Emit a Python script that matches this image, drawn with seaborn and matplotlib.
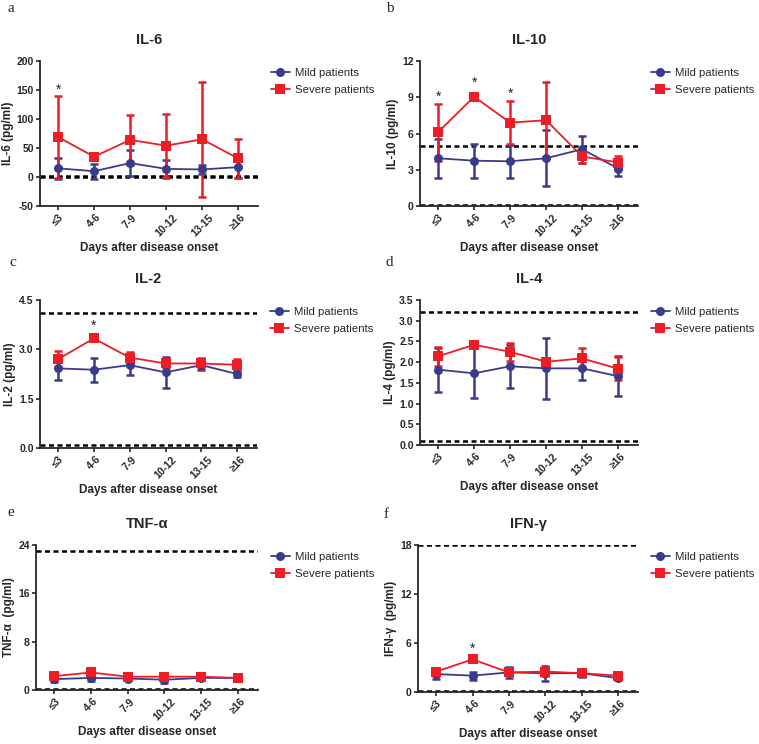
import numpy as np
import pandas as pd
import seaborn as sns
import matplotlib.pyplot as plt

# data
days = ['≤3', '4-6', '7-9', '10-12', '13-15', '≥16']
groups = ['Mild patients', 'Severe patients']

il6_mild = [15, 10, 24, 14, 13, 17]
il6_mild_err = [18, 13, 23, 15, 8, 19]
il6_severe = [69, 35, 64, 54, 65, 32]
il6_severe_err = [70, 1, 43, 54, 99, 33]

il10_mild = [3.95, 3.75, 3.7, 3.95, 4.7, 3.1]
il10_mild_err = [1.6, 1.4, 1.35, 2.3, 1.1, 0.6]
il10_severe = [6.1, 9.05, 6.9, 7.1, 4.1, 3.6]
il10_severe_err = [2.35, 0.05, 1.75, 3.2, 0.5, 0.55]

il2_mild = [2.42, 2.38, 2.52, 2.3, 2.52, 2.25]
il2_mild_err = [0.35, 0.37, 0.3, 0.48, 0.15, 0.1]
il2_severe = [2.7, 3.33, 2.75, 2.57, 2.57, 2.53]
il2_severe_err = [0.25, 0.03, 0.18, 0.15, 0.18, 0.18]

il4_mild = [1.82, 1.73, 1.9, 1.85, 1.85, 1.66]
il4_mild_err = [0.53, 0.6, 0.52, 0.73, 0.28, 0.48]
il4_severe = [2.14, 2.42, 2.25, 2.01, 2.09, 1.84]
il4_severe_err = [0.23, 0.03, 0.22, 0.1, 0.26, 0.28]

tnf_mild = [1.8, 2.0, 1.9, 1.7, 2.0, 2.0]
tnf_mild_err = [0.4, 0.5, 0.3, 0.5, 0.3, 0.3]
tnf_severe = [2.3, 2.9, 2.2, 2.2, 2.2, 2.0]
tnf_severe_err = [0.3, 0.2, 0.2, 0.3, 0.2, 0.2]

ifn_mild = [2.2, 2.0, 2.4, 2.3, 2.3, 1.7]
ifn_mild_err = [0.6, 0.5, 0.7, 0.9, 0.5, 0.2]
ifn_severe = [2.5, 4.0, 2.4, 2.5, 2.3, 2.0]
ifn_severe_err = [0.5, 0.1, 0.3, 0.6, 0.4, 0.3]

panels = [
    # letter, title, ylabel, mild, mild_err, severe, severe_err, ylim, yticks, ref lines, stars, tick labels
    ('a', 'IL-6', 'IL-6 (pg/ml)', il6_mild, il6_mild_err, il6_severe, il6_severe_err,
     (-50, 200), [-50, 0, 50, 100, 150, 200], [0, 2], {0: 150}, ['-50', '0', '50', '100', '150', '200']),
    ('b', 'IL-10', 'IL-10 (pg/ml)', il10_mild, il10_mild_err, il10_severe, il10_severe_err,
     (0, 12), [0, 3, 6, 9, 12], [5, 0.1], {0: 9.0, 1: 10.2, 2: 9.3}, ['0', '3', '6', '9', '12']),
    ('c', 'IL-2', 'IL-2 (pg/ml)', il2_mild, il2_mild_err, il2_severe, il2_severe_err,
     (0, 4.5), [0, 1.5, 3.0, 4.5], [4.1, 0.1], {1: 3.72}, ['0.0', '1.5', '3.0', '4.5']),
    ('d', 'IL-4', 'IL-4 (pg/ml)', il4_mild, il4_mild_err, il4_severe, il4_severe_err,
     (0, 3.5), [0, 0.5, 1, 1.5, 2, 2.5, 3, 3.5], [3.2, 0.1], {},
     ['0.0', '0.5', '1.0', '1.5', '2.0', '2.5', '3.0', '3.5']),
    ('e', 'TNF-α', 'TNF-α  (pg/ml)', tnf_mild, tnf_mild_err, tnf_severe, tnf_severe_err,
     (0, 24), [0, 8, 16, 24], [23, 0.1], {}, ['0', '8', '16', '24']),
    ('f', 'IFN-γ', 'IFN-γ  (pg/ml)', ifn_mild, ifn_mild_err, ifn_severe, ifn_severe_err,
     (0, 18), [0, 6, 12, 18], [18, 0.1], {1: 5.3}, ['0', '6', '12', '18']),
]

# axes boxes in pixels: left, right, top, bottom
boxes = [(40, 258, 61, 206), (420, 638, 61, 206),
         (40, 257, 300, 448), (420, 638, 300, 445),
         (36, 258, 545, 690), (418, 638, 545, 692)]
letter_pos = [(7, 2), (386, 2), (9, 256), (386, 256), (7, 506), (384, 508)]

sns.set_style('ticks')
plt.rcParams['font.family'] = ['Liberation Sans', 'DejaVu Sans']

W, H = 759, 744
fig = plt.figure(figsize=(W / 100, H / 100), dpi=100)

palette = {'Mild patients': '#3b3b8c', 'Severe patients': '#ee1c25'}
markers = {'Mild patients': 'o', 'Severe patients': 's'}

for (letter, title, ylab, m, me, s, se, ylim, yticks, refs, stars, ylabels), (l, r, t, b), (lx, ly) in zip(panels, boxes, letter_pos):
    ax = fig.add_axes([l / W, 1 - b / H, (r - l) / W, (b - t) / H])
    df = pd.DataFrame({
        'x': list(range(6)) * 2,
        'value': m + s,
        'err': me + se,
        'group': [groups[0]] * 6 + [groups[1]] * 6,
    })
    for ref in refs:
        ax.axhline(ref, color='black', lw=1.8, ls=(0, (2, 1.4)), zorder=1)
    for g in groups:
        sub = df[df['group'] == g]
        ax.errorbar(sub['x'], sub['value'], yerr=sub['err'], fmt='none',
                    ecolor=palette[g], elinewidth=1.8, capsize=3, capthick=1.8, zorder=2)
    sns.lineplot(data=df, x='x', y='value', hue='group', style='group',
                 palette=palette, markers=markers, dashes=False, markersize=6.5,
                 markeredgewidth=0, linewidth=1.3, ax=ax, zorder=3)
    for pos, yv in stars.items():
        ax.text(pos, yv, '*', ha='center', va='center', fontsize=10, color='#222222')

    ax.set_xlim(-0.5, 5.55)
    ax.set_ylim(*ylim)
    ax.set_yticks(yticks)
    ax.set_yticklabels(ylabels, fontsize=7.5, fontweight='bold')
    ax.set_xticks(range(6))
    ax.set_xticklabels(days, rotation=45, fontsize=7.5, fontweight='bold')
    ax.set_xlabel('Days after disease onset', fontsize=8.5, fontweight='bold', labelpad=3)
    ax.set_ylabel(ylab, fontsize=8.5, fontweight='bold', labelpad=2)
    ax.set_title(title, fontsize=10.5, fontweight='bold', pad=12)
    sns.despine(ax=ax)
    for sp in ['left', 'bottom']:
        ax.spines[sp].set_linewidth(1.3)
    ax.tick_params(width=1.2, length=3, pad=1.5)

    ax.legend(loc='upper left', bbox_to_anchor=(r / W + 0.004, 1 - (t - 3) / H),
              bbox_transform=fig.transFigure, frameon=False, fontsize=8.2,
              handlelength=1.6, handletextpad=0.5, labelspacing=0.55)
    fig.text(lx / W, 1 - ly / H, letter, fontsize=11,
             family='Liberation Serif', va='top', ha='left')

fig.savefig('out.png', dpi=100)
